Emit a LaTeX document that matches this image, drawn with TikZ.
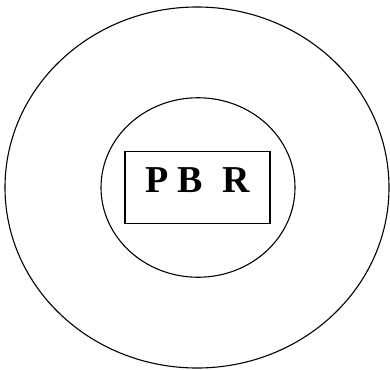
\documentclass[tikz,border=0pt]{standalone}
\usepackage{fontspec}
\setmainfont{Liberation Serif}
\usetikzlibrary{shapes.geometric}
\begin{document}
\begin{tikzpicture}[x=1pt,y=-1pt,
  ring/.style={draw,ellipse,line width=1.1pt,inner sep=0pt},
  labelbox/.style={draw,rectangle,line width=1.4pt,inner sep=0pt,
    minimum width=145pt,minimum height=72.5pt,
    font=\fontsize{38}{40}\selectfont\bfseries,text height=25pt,text depth=16pt}]
  \useasboundingbox (0,0) rectangle (390,369);
  % Ellipses
  \node[ring,minimum width=384pt,minimum height=361pt] (outer) at (197,187.5) {};
  \node[ring,minimum width=194pt,minimum height=179.5pt] (inner) at (198,187.5) {};
  % Box
  \node[labelbox] (pbr) at (197.5,187.5) {P~B~~R};
\end{tikzpicture}
\end{document}
